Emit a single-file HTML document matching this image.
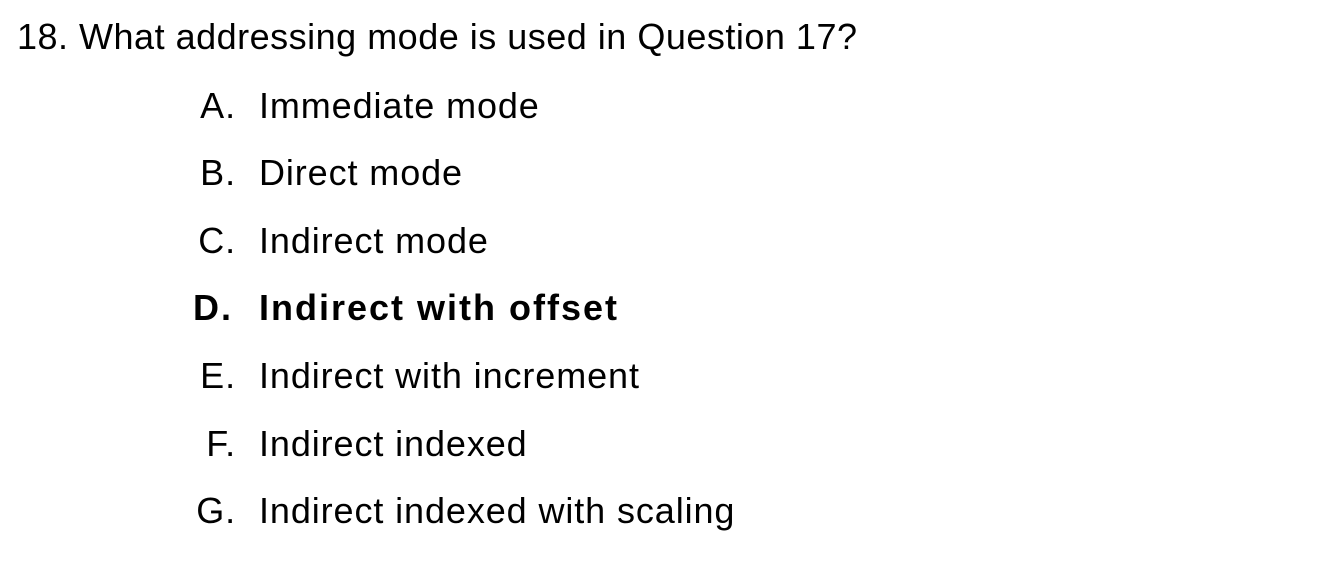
<!DOCTYPE html>
<html><head><meta charset="utf-8"><style>
html,body{margin:0;padding:0;background:#fff;width:1323px;height:563px;overflow:hidden;}
.t{position:absolute;font-family:"Liberation Sans","DejaVu Sans",sans-serif;font-size:36px;line-height:36px;color:#000;white-space:nowrap;letter-spacing:0.9px;}
.l{position:absolute;width:60px;text-align:right;left:176px;}
.x{left:259px;}
b{font-weight:bold;letter-spacing:2px;}
</style></head><body>
<div class="t" style="left:17px;top:19px;letter-spacing:0.5px;">18. What addressing mode is used in Question 17?</div>
<div class="t l" style="top:88px;">A.</div><div class="t x" style="top:88px;">Immediate mode</div>
<div class="t l" style="top:155px;">B.</div><div class="t x" style="top:155px;">Direct mode</div>
<div class="t l" style="top:223px;">C.</div><div class="t x" style="top:223px;">Indirect mode</div>
<div class="t l" style="top:290px;left:173px;"><b>D.</b></div><div class="t x" style="top:290px;"><b>Indirect with offset</b></div>
<div class="t l" style="top:358px;">E.</div><div class="t x" style="top:358px;">Indirect with increment</div>
<div class="t l" style="top:426px;">F.</div><div class="t x" style="top:426px;">Indirect indexed</div>
<div class="t l" style="top:493px;">G.</div><div class="t x" style="top:493px;">Indirect indexed with scaling</div>
</body></html>
